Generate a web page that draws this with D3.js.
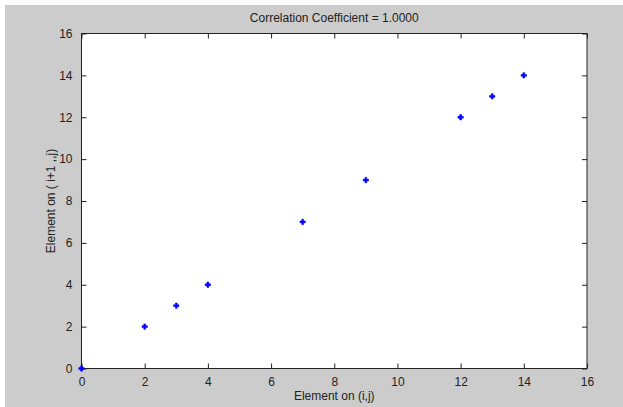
<!DOCTYPE html>
<html lang="en">
<head>
    <meta charset="UTF-8">
    <title>Correlation</title>
    <script src="https://cdn.jsdelivr.net/npm/d3@7"></script>
    <style>
        body { margin: 0; background: #fff; }
        text { font-family: "Liberation Sans", Arial, sans-serif; }
    </style>
</head>
<body>
<svg width="623" height="407"></svg>
<script>
    // data
    var xValues = [0, 2, 3, 4, 7, 9, 12, 13, 14];
    var yValues = [0, 2, 3, 4, 7, 9, 12, 13, 14];
    var tickValues = [0, 2, 4, 6, 8, 10, 12, 14, 16];
    var title = 'Correlation Coefficient = 1.0000';
    var xTitle = 'Element on (i,j)';
    var yTitle = 'Element on  ( i+1 ,,j)';

    var points = xValues.map(function(d, i){ return {x: d, y: yValues[i]}; });

    var svg = d3.select('svg'),
        margin = {top: 33.5, left: 81.5, right: 36, bottom: 38.5},
        width = +svg.attr('width') - margin.left - margin.right,
        height = +svg.attr('height') - margin.top - margin.bottom;

    // grey figure background
    svg.append('rect')
        .attr('x', 5).attr('y', 5)
        .attr('width', 618).attr('height', 402)
        .attr('fill', '#cccccc');

    var g = svg.append('g')
        .attr('transform', 'translate(' + margin.left + ',' + margin.top + ')');

    var x = d3.scaleLinear().domain([0, 16]).range([0, width]);
    var y = d3.scaleLinear().domain([0, 16]).range([height, 0]);

    // white axes box
    g.append('rect')
        .attr('width', width).attr('height', height)
        .attr('fill', '#fff');

    // ticks pointing inward on every side, labels on left and bottom only
    function styleAxis(sel){
        sel.select('.domain').remove();
        sel.selectAll('line').attr('stroke', '#222');
        sel.selectAll('text').attr('fill', '#222').attr('font-size', '12px');
    }
    g.append('g')
        .attr('transform', 'translate(0,' + height + ')')
        .call(d3.axisBottom(x).tickValues(tickValues).tickSizeInner(-5).tickPadding(9))
        .call(styleAxis);
    g.append('g')
        .call(d3.axisLeft(y).tickValues(tickValues).tickSizeInner(-5).tickPadding(9))
        .call(styleAxis);
    g.append('g')
        .call(d3.axisTop(x).tickValues(tickValues).tickSizeInner(-5).tickFormat(''))
        .call(styleAxis);
    g.append('g')
        .attr('transform', 'translate(' + width + ',0)')
        .call(d3.axisRight(y).tickValues(tickValues).tickSizeInner(-5).tickFormat(''))
        .call(styleAxis);

    // box outline
    g.append('rect')
        .attr('width', width).attr('height', height)
        .attr('fill', 'none')
        .attr('stroke', '#222');

    // points
    g.append('g')
        .selectAll('path')
        .data(points)
        .enter().append('path')
        .attr('transform', function(d){ return 'translate(' + x(d.x) + ',' + y(d.y) + ')'; })
        .attr('d', d3.symbol().type(d3.symbolCross).size(16))
        .attr('fill', '#0000ff')
        .attr('stroke', '#0000ff')
        .attr('stroke-width', 0.6);

    // titles
    svg.append('text')
        .attr('x', margin.left + width / 2)
        .attr('y', 22)
        .attr('text-anchor', 'middle')
        .attr('font-size', '12px')
        .attr('fill', '#222')
        .text(title);
    svg.append('text')
        .attr('x', margin.left + width / 2)
        .attr('y', 400)
        .attr('text-anchor', 'middle')
        .attr('font-size', '12px')
        .attr('fill', '#222')
        .text(xTitle);
    svg.append('text')
        .attr('transform', 'translate(55,' + (margin.top + height / 2) + ') rotate(-90)')
        .attr('text-anchor', 'middle')
        .attr('font-size', '12px')
        .attr('fill', '#222')
        .text(yTitle);
</script>
</body>
</html>
